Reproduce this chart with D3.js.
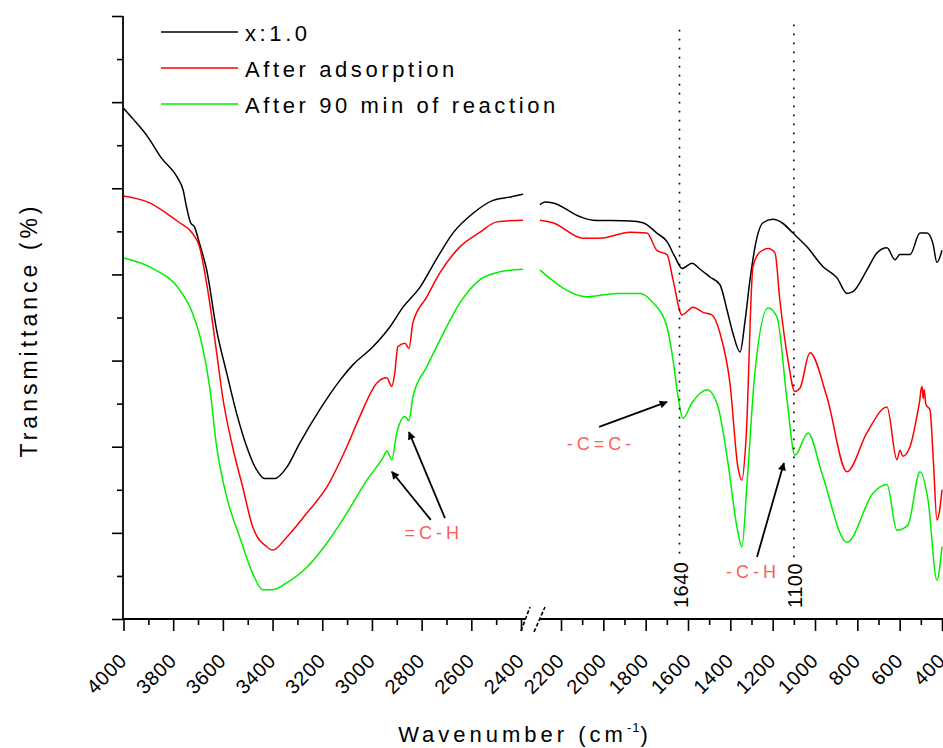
<!DOCTYPE html>
<html>
<head>
<meta charset="utf-8">
<script src="https://cdn.jsdelivr.net/npm/d3@7"></script>
<style>
  html, body { margin: 0; padding: 0; background: #fff; }
  svg { display: block; font-family: "Liberation Sans", Arial, sans-serif; }
</style>
</head>
<body>
<svg id="chart" width="943" height="748"></svg>
<script>
// FTIR spectra, each point is [wavenumber (cm-1), transmittance (a.u.)]
// High-wavenumber part (4000 - 2400 cm-1)
const pristineHigh = [
  [4000,59.3],[3960,58.0],[3903,56.0],[3847,53.5],[3782,51.2],[3760,49.8],[3746,47.8],[3730,46.0],
  [3714,45.5],[3694,43.6],[3665,40.5],[3625,33.5],[3585,28.6],[3545,23.9],[3504,20.0],[3464,17.3],
  [3432,16.3],[3391,16.3],[3343,17.6],[3291,20.4],[3210,24.3],[3129,27.7],[3077,29.5],[2996,31.6],
  [2928,33.9],[2875,36.2],[2807,38.5],[2738,41.9],[2674,44.8],[2593,47.1],[2513,48.6],[2440,49.0],[2392,49.3]
];
const adsorbedHigh = [
  [4000,49.1],[3895,48.3],[3827,47.1],[3774,46.0],[3726,44.9],[3694,43.2],[3661,38.2],[3625,30.9],
  [3601,25.8],[3561,20.0],[3520,15.3],[3480,10.7],[3424,8.4],[3399,8.0],[3343,9.5],[3262,12.3],
  [3182,15.3],[3101,20.0],[3049,23.5],[2980,27.4],[2940,28.0],[2920,27.0],[2908,28.6],[2896,31.6],
  [2867,32.0],[2851,31.4],[2835,34.4],[2779,37.4],[2726,40.2],[2646,43.2],[2565,44.9],[2497,46.1],[2392,46.3]
];
const reactedHigh = [
  [4000,41.9],[3883,40.7],[3774,38.2],[3722,35.5],[3682,31.6],[3653,26.9],[3625,20.0],[3585,14.2],
  [3532,9.5],[3480,5.3],[3440,3.4],[3399,3.4],[3343,4.2],[3262,6.0],[3182,8.8],[3101,12.3],
  [3021,16.1],[2956,18.7],[2940,19.5],[2920,18.5],[2900,21.6],[2867,23.5],[2851,23.0],[2835,25.8],
  [2779,29.3],[2726,32.4],[2646,36.7],[2565,39.4],[2485,40.3],[2392,40.6]
];
// Low-wavenumber part (2300 - 400 cm-1)
const pristineLow = [
  [2299,48.1],[2276,48.4],[2238,48.3],[2110,46.7],[2049,46.3],[1874,46.2],[1813,46.0],[1747,44.8],
  [1699,43.8],[1661,42.0],[1628,40.7],[1581,41.3],[1543,40.6],[1496,39.7],[1449,38.8],[1416,35.9],
  [1388,33.2],[1354,31.0],[1331,34.5],[1307,39.4],[1274,44.3],[1246,46.0],[1199,46.4],[1156,46.0],
  [1104,44.8],[1038,43.2],[962,40.9],[896,39.6],[849,37.8],[821,38.0],[755,40.5],[707,42.5],
  [660,43.1],[622,41.7],[599,42.3],[551,42.3],[504,44.8],[471,44.8],[443,43.6],[424,41.4],[400,42.8]
];
const adsorbedLow = [
  [2299,46.3],[2238,46.0],[2096,44.2],[2016,44.2],[1874,44.9],[1794,44.8],[1747,42.8],[1699,42.3],
  [1671,39.4],[1628,35.3],[1576,36.2],[1529,35.6],[1487,35.3],[1449,33.2],[1402,27.4],[1364,17.6],
  [1345,16.1],[1326,20.8],[1293,40.9],[1260,42.6],[1222,43.0],[1189,42.5],[1166,37.0],[1128,30.1],
  [1095,26.4],[1071,26.8],[1024,30.9],[944,25.8],[849,17.1],[755,21.6],[660,24.6],[613,18.5],
  [598,19.6],[585,18.9],[551,20.0],[515,24.0],[505,25.4],[500,26.5],[494,27.0],[489,25.6],
  [484,26.6],[476,24.9],[457,24.3],[440,18.0],[424,11.5],[412,12.5],[400,15.0]
];
const reactedLow = [
  [2299,40.5],[2077,37.4],[1935,37.8],[1827,37.8],[1765,36.7],[1699,33.9],[1671,30.1],[1647,25.8],
  [1624,23.3],[1581,25.1],[1510,26.6],[1458,24.6],[1411,18.1],[1369,10.7],[1345,8.4],[1321,15.8],
  [1284,28.6],[1222,36.1],[1180,35.1],[1132,25.4],[1095,19.0],[1033,21.6],[967,16.9],[849,8.9],
  [726,14.6],[660,15.6],[613,10.3],[561,10.9],[504,17.1],[466,13.8],[424,4.5],[400,8.4]
];

const seriesNames = ["x:1.0", "After adsorption", "After 90 min of reaction"];
const seriesColors = ["#000000", "#ff0000", "#00ee00"];

// Axis ticks
const highMajor = [4000, 3800, 3600, 3400, 3200, 3000, 2800, 2600, 2400];
const highMinor = [3900, 3700, 3500, 3300, 3100, 2900, 2700, 2500];
const lowMajor = [2200, 2000, 1800, 1600, 1400, 1200, 1000, 800, 600, 400];
const lowMinor = [2100, 1900, 1700, 1500, 1300, 1100, 900, 700, 500];
const yMajor = [0, 10, 20, 30, 40, 50, 60, 70];
const yMinor = [5, 15, 25, 35, 45, 55, 65];

// Marked bands
const bandLines = [1640, 1100];
const bandRange = [[68.4, 6.8], [69.0, 7.0]];
const notes = [
  { text: "=C-H",  at: [2751, 9.3] },
  { text: "-C=C-", at: [2011, 19.6] },
  { text: "-C-H",  at: [1293, 4.8] }
];
const arrows = [
  [[2763, 11.5], [2920, 17.1]],
  [[2706, 11.7], [2851, 21.7]],
  [[2020, 22.3], [1699, 25.2]],
  [[1274, 7.2],  [1147, 18.1]]
];

const svg = d3.select("#chart");
const axisY = 619, axisX = 123;
const xHigh = d3.scaleLinear().domain([4000, 2400]).range([123.5, 521]);
const xLow  = d3.scaleLinear().domain([2200, 400]).range([561, 942]);
const y = d3.scaleLinear().domain([0, 70]).range([axisY, 16]);
const xAt = wn => (wn > 2350 ? xHigh(wn) : xLow(wn));

// Spectra
const line = d3.line().x(d => xAt(d[0])).y(d => y(d[1])).curve(d3.curveMonotoneX);
const parts = [[pristineHigh, pristineLow], [adsorbedHigh, adsorbedLow], [reactedHigh, reactedLow]];
parts.forEach((pair, i) => {
  pair.forEach(seg => {
    svg.append("path").datum(seg).attr("d", line)
      .attr("fill", "none").attr("stroke", seriesColors[i])
      .attr("stroke-width", 1.5).attr("stroke-linejoin", "round");
  });
});

// Dotted reference lines with their wavenumbers
bandLines.forEach((wn, i) => {
  const xx = xLow(wn);
  svg.append("line").attr("x1", xx).attr("x2", xx)
    .attr("y1", y(bandRange[i][0])).attr("y2", y(bandRange[i][1]))
    .attr("stroke", "#000").attr("stroke-width", 1.6).attr("stroke-dasharray", "1.6,7.4");
  svg.append("text").attr("transform", `translate(${xx + 8},608) rotate(-90)`)
    .attr("font-size", 20).attr("letter-spacing", 0.5).attr("fill", "#000").text(wn);
});

// Arrows and band assignments
const defs = svg.append("defs");
defs.append("marker").attr("id", "head").attr("viewBox", "0 0 10 10")
  .attr("refX", 9).attr("refY", 5).attr("markerWidth", 10).attr("markerHeight", 8)
  .attr("markerUnits", "userSpaceOnUse").attr("orient", "auto")
  .append("path").attr("d", "M0,0 L10,5 L0,10 Z").attr("fill", "#000");
arrows.forEach(a => {
  svg.append("line")
    .attr("x1", xAt(a[0][0])).attr("y1", y(a[0][1]))
    .attr("x2", xAt(a[1][0])).attr("y2", y(a[1][1]))
    .attr("stroke", "#000").attr("stroke-width", 1.8)
    .attr("marker-end", "url(#head)");
});
notes.forEach(n => {
  svg.append("text").attr("x", xAt(n.at[0])).attr("y", y(n.at[1]))
    .attr("text-anchor", "middle").attr("font-size", 18).attr("letter-spacing", 4)
    .attr("fill", "#ff5c5c").text(n.text);
});

// X axes (broken)
function styleAxis(g) {
  g.select(".domain").remove();
  g.selectAll("line").attr("stroke", "#000").attr("stroke-width", 1.6);
}
function rotateLabels(g) {
  g.selectAll("text").attr("x", 0).attr("y", 0).attr("dy", 0)
    .attr("text-anchor", "end").attr("font-size", 20).attr("letter-spacing", 0.6)
    .attr("fill", "#000").attr("font-family", "Liberation Sans, Arial, sans-serif")
    .attr("transform", "translate(4,43) rotate(-45)");
}
[[xHigh, highMajor, highMinor], [xLow, lowMajor, lowMinor]].forEach(([sc, maj, min]) => {
  svg.append("g").attr("transform", `translate(0,${axisY})`)
    .call(d3.axisBottom(sc).tickValues(min).tickSize(6).tickFormat(""))
    .call(styleAxis);
  svg.append("g").attr("transform", `translate(0,${axisY})`)
    .call(d3.axisBottom(sc).tickValues(maj).tickSize(12).tickFormat(d3.format("d")))
    .call(styleAxis).call(rotateLabels);
});
svg.append("line").attr("x1", axisX).attr("x2", 526).attr("y1", axisY).attr("y2", axisY)
  .attr("stroke", "#000").attr("stroke-width", 1.8);
svg.append("line").attr("x1", 540).attr("x2", 943).attr("y1", axisY).attr("y2", axisY)
  .attr("stroke", "#000").attr("stroke-width", 1.8);
[[521, 631, 530, 607], [534, 632, 545, 607]].forEach(s => {
  svg.append("line").attr("x1", s[0]).attr("y1", s[1]).attr("x2", s[2]).attr("y2", s[3])
    .attr("stroke", "#000").attr("stroke-width", 1.6).attr("stroke-dasharray", "4,2");
});

// Y axis
svg.append("g").attr("transform", `translate(${axisX},0)`)
  .call(d3.axisLeft(y).tickValues(yMinor).tickSize(6).tickFormat(""))
  .call(styleAxis);
svg.append("g").attr("transform", `translate(${axisX},0)`)
  .call(d3.axisLeft(y).tickValues(yMajor).tickSize(11).tickFormat(""))
  .call(styleAxis);
svg.append("line").attr("x1", axisX).attr("x2", axisX).attr("y1", 16).attr("y2", axisY + 1)
  .attr("stroke", "#000").attr("stroke-width", 1.8);

// Axis titles
svg.append("text").attr("transform", "translate(37,330) rotate(-90)")
  .attr("text-anchor", "middle").attr("font-size", 23).attr("letter-spacing", 4)
  .attr("fill", "#000").text("Transmittance (%)");
const xt = svg.append("text").attr("x", 525).attr("y", 742)
  .attr("text-anchor", "middle").attr("font-size", 22).attr("letter-spacing", 4).attr("fill", "#000");
xt.append("tspan").text("Wavenumber (cm");
xt.append("tspan").attr("dy", -10).attr("font-size", 13).attr("letter-spacing", 1).text("-1");
xt.append("tspan").attr("dy", 10).text(")");

// Legend
const legend = svg.append("g");
seriesNames.forEach((name, i) => {
  const ly = 32 + i * 36;
  legend.append("line").attr("x1", 161).attr("x2", 238).attr("y1", ly).attr("y2", ly)
    .attr("stroke", seriesColors[i]).attr("stroke-width", 1.6);
  legend.append("text").attr("x", 245).attr("y", ly + 9)
    .attr("font-size", 22).attr("letter-spacing", 3.6).attr("fill", "#000").text(name);
});
</script>
</body>
</html>
